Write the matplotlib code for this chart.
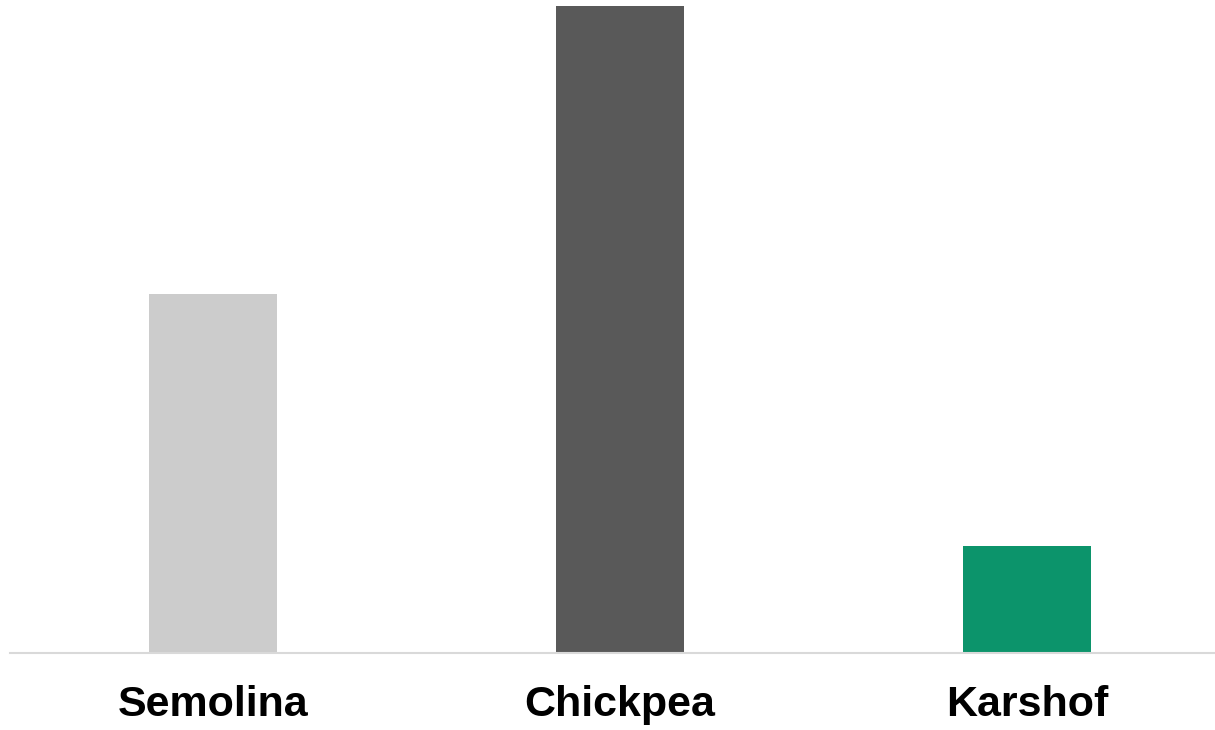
import matplotlib
matplotlib.use("Agg")
import matplotlib.pyplot as plt

# values (relative to the tallest bar)
categories = ["Semolina", "Chickpea", "Karshof"]
values = [0.555, 1.0, 0.165]
colors = ["#cccccc", "#595959", "#0c946b"]

plt.rcParams['font.family'] = ['Liberation Sans', 'DejaVu Sans']

fig = plt.figure(figsize=(12.15, 7.3), dpi=100)
# axes spans a bit past the right edge so the category slots line up
ax = fig.add_axes([9.5 / 1215, 77 / 730, 1221 / 1215, 647 / 730])

x = list(range(len(categories)))
ax.bar(x, values, width=0.315, color=colors)

ax.set_xlim(-0.5, 2.5)
ax.set_ylim(0, 1.0)
ax.set_xticks(x)
ax.set_xticklabels(categories, fontsize=31, fontweight='bold')
ax.tick_params(axis='x', length=0, pad=23)
ax.set_yticks([])

for side in ['top', 'left', 'right']:
    ax.spines[side].set_visible(False)
ax.spines['bottom'].set_color('#d9d9d9')
ax.spines['bottom'].set_linewidth(1.5)

fig.savefig("out.png", dpi=100)
